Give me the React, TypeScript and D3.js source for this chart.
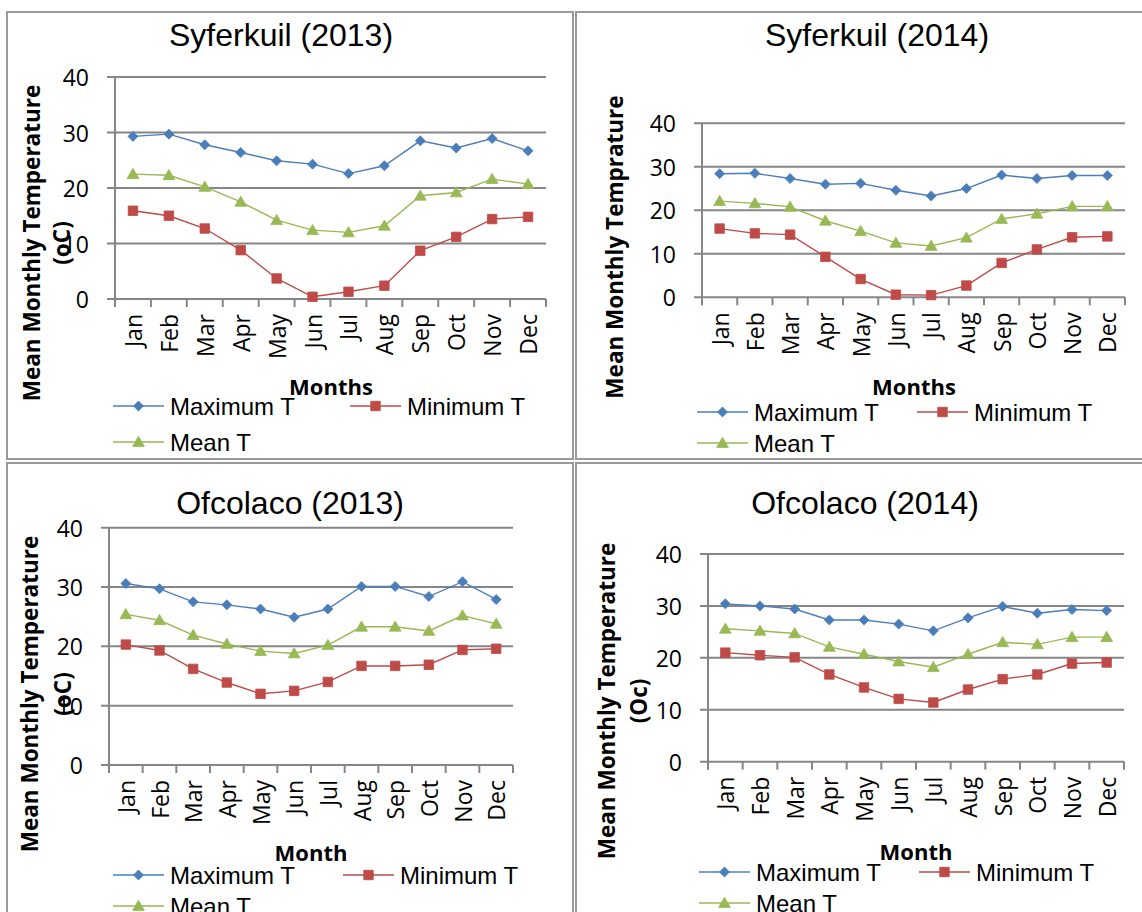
import React from "react";
import * as d3 from "d3";

const months = ["Jan", "Feb", "Mar", "Apr", "May", "Jun", "Jul", "Aug", "Sep", "Oct", "Nov", "Dec"];
const yTicks = [0, 10, 20, 30, 40];
const seriesNames = ["Maximum T", "Minimum T", "Mean T"];
const seriesColors = ["#4a7ebb", "#be4b48", "#98b954"];

const syferkuil2013Max = [29.3, 29.7, 27.8, 26.4, 24.9, 24.3, 22.6, 24.0, 28.5, 27.2, 28.9, 26.7];
const syferkuil2013Min = [15.9, 15.0, 12.7, 8.8, 3.7, 0.4, 1.3, 2.4, 8.7, 11.2, 14.4, 14.8];
const syferkuil2013Mean = [22.5, 22.3, 20.2, 17.5, 14.2, 12.4, 12.0, 13.2, 18.6, 19.2, 21.6, 20.7];

const syferkuil2014Max = [28.4, 28.5, 27.3, 26.0, 26.2, 24.6, 23.3, 25.0, 28.1, 27.3, 28.0, 28.0];
const syferkuil2014Min = [15.8, 14.7, 14.4, 9.3, 4.2, 0.6, 0.5, 2.7, 7.9, 11.0, 13.8, 14.0];
const syferkuil2014Mean = [22.1, 21.6, 20.8, 17.6, 15.2, 12.5, 11.8, 13.7, 18.0, 19.2, 20.9, 20.9];

const ofcolaco2013Max = [30.6, 29.7, 27.5, 27.0, 26.3, 24.9, 26.3, 30.1, 30.1, 28.4, 30.9, 27.9];
const ofcolaco2013Min = [20.3, 19.3, 16.2, 13.9, 12.0, 12.5, 14.0, 16.7, 16.7, 16.9, 19.4, 19.6];
const ofcolaco2013Mean = [25.4, 24.4, 21.9, 20.4, 19.2, 18.8, 20.2, 23.3, 23.3, 22.6, 25.2, 23.8];

const ofcolaco2014Max = [30.4, 30.0, 29.4, 27.3, 27.3, 26.5, 25.2, 27.7, 29.9, 28.6, 29.3, 29.1];
const ofcolaco2014Min = [21.0, 20.5, 20.1, 16.8, 14.3, 12.1, 11.4, 13.9, 15.9, 16.8, 18.9, 19.1];
const ofcolaco2014Mean = [25.6, 25.2, 24.7, 22.1, 20.7, 19.3, 18.2, 20.7, 23.0, 22.6, 24.0, 24.0];

const panelTitles = ["Syferkuil (2013)", "Syferkuil (2014)", "Ofcolaco (2013)", "Ofcolaco (2014)"];
const panelYLabels = [
  ["Mean Monthly Temperature", "(oC)"],
  ["Mean Monthly Temprature"],
  ["Mean Monthly Temperature", "(oC)"],
  ["Mean Monthly Temperature", "(Oc)"],
];
const panelXLabels = ["Months", "Months", "Month", "Month"];
const panelSeries = [
  [syferkuil2013Max, syferkuil2013Min, syferkuil2013Mean],
  [syferkuil2014Max, syferkuil2014Min, syferkuil2014Mean],
  [ofcolaco2013Max, ofcolaco2013Min, ofcolaco2013Mean],
  [ofcolaco2014Max, ofcolaco2014Min, ofcolaco2014Mean],
];

// layout (pixel positions)
const layouts = [
  { box: [7, 12, 566, 447], titleX: 281, titleY: 46, left: 115, right: 546, top: 77, bottom: 299,
    yl: [31, 61], ylY: 243, xlX: 331, xlY: 395,
    leg: { r1: 406, r2: 442, x1: 113, x2: 350 } },
  { box: [576, 12, 580, 447], titleX: 877, titleY: 46, left: 702, right: 1125, top: 123.3, bottom: 297.3,
    yl: [614], ylY: 247, xlX: 914, xlY: 395,
    leg: { r1: 412, r2: 443, x1: 697, x2: 917 } },
  { box: [7, 463, 566, 460], titleX: 290, titleY: 514, left: 109, right: 513, top: 527.7, bottom: 765,
    yl: [29, 62], ylY: 694, xlX: 311, xlY: 861,
    leg: { r1: 875, r2: 906, x1: 113, x2: 343 } },
  { box: [576, 463, 580, 460], titleX: 865, titleY: 514, left: 708, right: 1124, top: 554, bottom: 761.7,
    yl: [606, 638], ylY: 701, xlX: 916, xlY: 860,
    leg: { r1: 872, r2: 903, x1: 699, x2: 919 } },
];

const symbolTypes = [d3.symbolDiamond2, d3.symbolSquare, d3.symbolTriangle];
const symbolSizes = [64, 90, 60];
const CAL = "'Open Sans', 'Noto Sans', sans-serif";
const ARIAL = "'Liberation Sans', Arial, sans-serif";
const GRID = "#868686";

function Marker({ i, x, y }: { i: number; x: number; y: number }) {
  const p = d3.symbol().type(symbolTypes[i] as any).size(symbolSizes[i])() as string;
  const dy = i === 2 ? 1 : 0;
  return <path d={p} transform={`translate(${x},${y + dy})`} fill={seriesColors[i]} stroke={seriesColors[i]} strokeWidth={0.8} />;
}

function Panel({ idx }: { idx: number }) {
  const L = layouts[idx];
  const x = d3.scaleBand<string>().domain(months).range([L.left, L.right]);
  const y = d3.scaleLinear().domain([0, 40]).range([L.bottom, L.top]);
  const line = d3
    .line<number>()
    .x((_, i) => (x(months[i]) as number) + x.bandwidth() / 2)
    .y((d) => y(d));
  const series = panelSeries[idx];
  const boundaries = months.map((m) => x(m) as number).concat([L.right]);
  const [bx, by, bw, bh] = L.box;
  const legendItems = [
    { i: 0, lx: L.leg.x1, ly: L.leg.r1 },
    { i: 1, lx: L.leg.x2, ly: L.leg.r1 },
    { i: 2, lx: L.leg.x1, ly: L.leg.r2 },
  ];
  const ylines = panelYLabels[idx];
  return (
    <g>
      <rect x={bx} y={by} width={bw} height={bh} fill="none" stroke="#9a9a9a" strokeWidth={2} />
      <text x={L.titleX} y={L.titleY} textAnchor="middle" fontFamily={ARIAL} fontSize={32} fill="#000">
        {panelTitles[idx]}
      </text>
      {yTicks.map((t) => (
        <line key={"g" + t} x1={L.left - 8} x2={L.right} y1={y(t)} y2={y(t)} stroke={GRID} strokeWidth={2} />
      ))}
      <line x1={L.left} x2={L.left} y1={L.top} y2={L.bottom + 8} stroke={GRID} strokeWidth={2} />
      {boundaries.map((b, k) => (
        <line key={"t" + k} x1={b} x2={b} y1={L.bottom} y2={L.bottom + 8} stroke={GRID} strokeWidth={2} />
      ))}
      {yTicks.map((t) => (
        <text key={"l" + t} x={L.left - 26} y={y(t)} textAnchor="end" dominantBaseline="central" fontFamily={CAL} fontSize={23} fill="#000">
          {t}
        </text>
      ))}
      {months.map((m) => {
        const cx = (x(m) as number) + x.bandwidth() / 2;
        const ty = L.bottom + 15;
        return (
          <text key={m} transform={`translate(${cx},${ty}) rotate(-90)`} textAnchor="end" dominantBaseline="central" fontFamily={CAL} fontSize={23} fill="#000">
            {m}
          </text>
        );
      })}
      {series.map((s, i) => (
        <g key={"s" + i}>
          <path d={line(s) as string} fill="none" stroke={seriesColors[i]} strokeWidth={1.4} />
          {s.map((v, k) => (
            <Marker key={k} i={i} x={(x(months[k]) as number) + x.bandwidth() / 2} y={y(v)} />
          ))}
        </g>
      ))}
      {ylines.map((t, k) => (
        <text key={"yl" + k} transform={`translate(${L.yl[k]},${L.ylY}) rotate(-90)`} textAnchor="middle" dominantBaseline="central" fontFamily={CAL} fontWeight="bold" fontSize={22.5} fill="#000">
          {t}
        </text>
      ))}
      <text x={L.xlX} y={L.xlY} textAnchor="middle" fontFamily={CAL} fontWeight="bold" fontSize={22} fill="#000">
        {panelXLabels[idx]}
      </text>
      {legendItems.map((it) => (
        <g key={"lg" + it.i}>
          <line x1={it.lx} x2={it.lx + 51} y1={it.ly} y2={it.ly} stroke={seriesColors[it.i]} strokeWidth={1.4} />
          <Marker i={it.i} x={it.lx + 25.5} y={it.ly} />
          <text x={it.lx + 57} y={it.ly} dominantBaseline="central" fontFamily={ARIAL} fontSize={24} fill="#000">
            {seriesNames[it.i]}
          </text>
        </g>
      ))}
    </g>
  );
}

export default function App() {
  return (
    <svg width={1142} height={912} style={{ position: "absolute", left: 0, top: 0, background: "#fff" }}>
      <rect x={0} y={0} width={1142} height={912} fill="#fff" />
      {[0, 1, 2, 3].map((i) => (
        <Panel key={i} idx={i} />
      ))}
    </svg>
  );
}
